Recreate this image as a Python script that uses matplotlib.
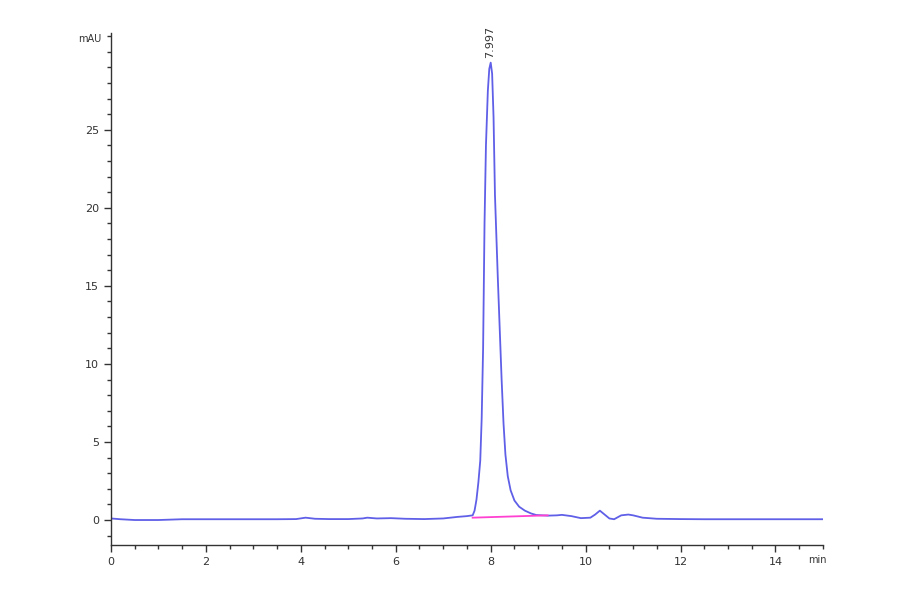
import matplotlib
matplotlib.use("Agg")
import matplotlib.pyplot as plt
from matplotlib.ticker import MultipleLocator

# Chromatogram trace (time in min, signal in mAU)
time_min = [0.0, 0.2, 0.5, 1.0, 1.5, 2.0, 2.5, 3.0, 3.5, 3.9, 4.1, 4.3, 4.6, 5.0, 5.3, 5.4, 5.6,
            5.9, 6.2, 6.6, 7.0, 7.3, 7.5, 7.62, 7.66, 7.70, 7.74, 7.78, 7.81, 7.84, 7.87,
            7.90, 7.94, 7.97, 8.0, 8.03, 8.06, 8.09, 8.15, 8.23, 8.27, 8.31, 8.36, 8.42,
            8.5, 8.6, 8.72, 8.85, 8.96, 9.2, 9.4, 9.5, 9.7, 9.9, 10.1, 10.2, 10.3, 10.4,
            10.5, 10.6, 10.75, 10.9, 11.0, 11.2, 11.5, 12.0, 12.5, 13.0, 13.5, 14.0, 14.5,
            15.0]
signal_mau = [0.1, 0.05, 0.0, 0.0, 0.05, 0.05, 0.05, 0.05, 0.05, 0.06, 0.15, 0.08, 0.06, 0.06, 0.1,
              0.15, 0.1, 0.12, 0.08, 0.06, 0.1, 0.2, 0.25, 0.3, 0.6, 1.3, 2.4, 3.8, 6.5,
              11.0, 19.0, 24.0, 27.5, 28.9, 29.3, 28.6, 25.8, 20.8, 15.5, 9.0, 6.2, 4.2, 2.8,
              1.9, 1.25, 0.85, 0.6, 0.42, 0.32, 0.28, 0.3, 0.33, 0.25, 0.12, 0.15, 0.35, 0.6,
              0.35, 0.1, 0.05, 0.3, 0.35, 0.3, 0.15, 0.08, 0.06, 0.05, 0.05, 0.05, 0.05,
              0.05, 0.05]

# Integration baseline
baseline_t = [7.62, 9.2]
baseline_y = [0.15, 0.3]

peak_rt = 7.997
peak_h = 29.3
peak_label = "7.997"

fig = plt.figure(figsize=(9, 5.94), dpi=100)
ax = fig.add_axes([0.1233, 0.0825, 0.7911, 0.862])

ax.plot(time_min, signal_mau, color="#5f5fe8", lw=1.3)
ax.plot(baseline_t, baseline_y, color="#ff40d0", lw=1.3)

ax.text(peak_rt, peak_h + 0.3, peak_label, rotation=90, ha="center", va="bottom",
        fontsize=8, color="#333333")

ax.set_xlim(0, 15)
ax.set_ylim(-1.6, 31.2)
ax.xaxis.set_major_locator(MultipleLocator(2))
ax.xaxis.set_minor_locator(MultipleLocator(0.5))
ax.yaxis.set_major_locator(MultipleLocator(5))
ax.yaxis.set_minor_locator(MultipleLocator(1))

for s in ["top", "right"]:
    ax.spines[s].set_visible(False)
for s in ["left", "bottom"]:
    ax.spines[s].set_color("#333333")
    ax.spines[s].set_linewidth(1.0)

ax.tick_params(axis="both", which="major", length=5, width=1, color="#333333",
               labelsize=8, labelcolor="#333333")
ax.tick_params(axis="both", which="minor", length=3, width=1, color="#333333")

xticks = [0, 2, 4, 6, 8, 10, 12, 14]
ax.set_xticks(xticks)
ax.set_xticklabels([str(v) for v in xticks])
yticks = [0, 5, 10, 15, 20, 25]
ax.set_yticks(yticks)
ax.set_yticklabels([str(v) for v in yticks])

fig.text(0.125 - 0.012, 0.935, "mAU", ha="right", va="center", fontsize=7, color="#333333")
fig.text(0.908, 0.057, "min", ha="center", va="center", fontsize=7, color="#333333")

fig.savefig("out.png", dpi=100)
